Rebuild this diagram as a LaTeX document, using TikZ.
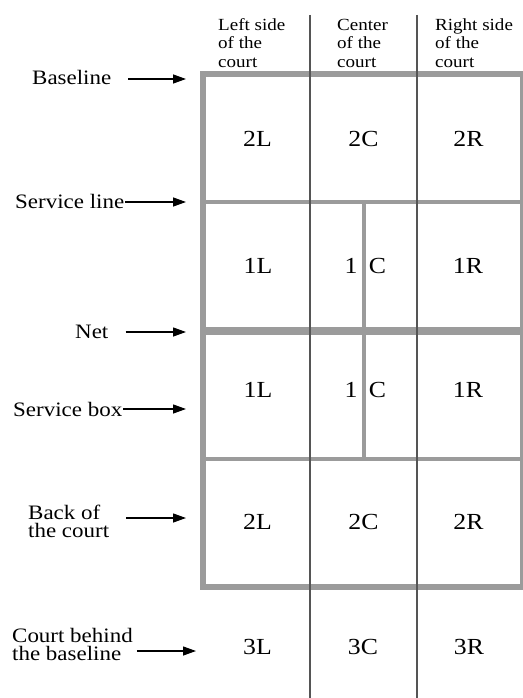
\documentclass[tikz,border=0pt]{standalone}
\usepackage{fontspec}
\setmainfont{Liberation Serif}[FakeStretch=1.12]
\usetikzlibrary{arrows.meta}
\definecolor{courtgray}{RGB}{155,155,155}
\definecolor{divgray}{RGB}{85,85,85}
\tikzset{
  courtline/.style={draw=courtgray},
  divline/.style={draw=divgray, line width=1.5pt},
  celltxt/.style={inner sep=0pt, font=\fontsize{23}{23}\selectfont},
  sidelbl/.style={inner sep=0pt, anchor=base west, align=left, font=\fontsize{20.5}{17.5}\selectfont},
  headlbl/.style={inner sep=0pt, anchor=base west, align=left, font=\fontsize{17}{18.5}\selectfont},
  arr/.style={draw=black, line width=1.3pt, -{Triangle[length=13pt,width=9pt]}}
}
\begin{document}
\begin{tikzpicture}[x=1pt,y=-1pt]
\useasboundingbox (0,0) rectangle (522,698);
% court lines
\draw[courtline, line width=4pt] (364,202) -- (364,459);
\draw[courtline, line width=4pt] (203,202) -- (526,202);
\draw[courtline, line width=8pt] (203,331) -- (526,331);
\draw[courtline, line width=4pt] (203,459) -- (526,459);
\draw[courtline, line width=6.5pt] (203,74) rectangle (523,587);
% side divisions
\draw[divline] (310,15) -- (310,698);
\draw[divline] (417,15) -- (417,698);
% headers (anchor = baseline of last line)
\node[headlbl] (hl) at (218,67.5) {Left side\\of the\\court};
\node[headlbl] (hc) at (337,67.5) {Center\\of the\\court};
\node[headlbl] (hr) at (435,67.5) {Right side\\of the\\court};
% cell labels
\node[celltxt] (c2la) at (257.5,139) {2L};
\node[celltxt] (c2ca) at (363.5,139) {2C};
\node[celltxt] (c2ra) at (468.5,139) {2R};
\node[celltxt] (c1la) at (258,266) {1L};
\node[celltxt] (c1na) at (351,266) {1};
\node[celltxt] (c1ca) at (377.5,266) {C};
\node[celltxt] (c1ra) at (468,266) {1R};
\node[celltxt] (c1lb) at (258,390) {1L};
\node[celltxt] (c1nb) at (351,390) {1};
\node[celltxt] (c1cb) at (377.5,390) {C};
\node[celltxt] (c1rb) at (468,390) {1R};
\node[celltxt] (c2lb) at (257.5,522) {2L};
\node[celltxt] (c2cb) at (363.5,522) {2C};
\node[celltxt] (c2rb) at (468.5,522) {2R};
\node[celltxt] (c3l) at (257.5,647) {3L};
\node[celltxt] (c3c) at (363,647) {3C};
\node[celltxt] (c3r) at (469,647) {3R};
% side labels (anchor = baseline of last line)
\node[sidelbl] (lbase) at (32,85) {Baseline};
\node[sidelbl] (lserv) at (15,208) {Service line};
\node[sidelbl] (lnet) at (75,338) {Net};
\node[sidelbl] (lbox) at (13,416) {Service box};
\node[sidelbl] (lback) at (28,537) {Back of\\the court};
\node[sidelbl] (lbeh) at (12,660) {Court behind\\the baseline};
% arrow targets
\coordinate (tbase) at (186,79);
\coordinate (tserv) at (186,202);
\coordinate (tnet) at (186,332);
\coordinate (tbox) at (186,409);
\coordinate (tback) at (186,518);
\coordinate (tbeh) at (196,651);
\draw[arr, shorten <=17pt] (tbase -| lbase.east) -- (tbase);
\draw[arr, shorten <=1pt] (tserv -| lserv.east) -- (tserv);
\draw[arr, shorten <=17pt] (tnet -| lnet.east) -- (tnet);
\draw[arr, shorten <=1pt] (tbox -| lbox.east) -- (tbox);
\draw[arr, shorten <=17pt] (tback -| lback.east) -- (tback);
\draw[arr, shorten <=4pt] (tbeh -| lbeh.east) -- (tbeh);
\end{tikzpicture}
\end{document}
